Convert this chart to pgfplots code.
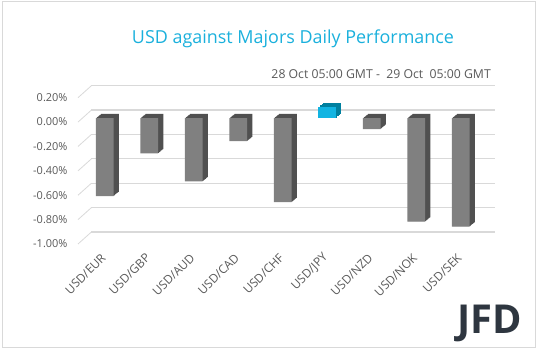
\documentclass[border=0pt]{standalone}
\usepackage{pgfplots}
\pgfplotsset{compat=1.18}
\usepackage{pgfplotstable}
\usepackage{fontspec}
\setmainfont{Open Sans}
\newfontfamily\logofont{Open Sans}
\definecolor{gfront}{HTML}{808080}
\definecolor{gdark}{HTML}{505050}
\definecolor{cfront}{HTML}{12B4E2}
\definecolor{cdark}{HTML}{00809F}
\definecolor{gridgray}{HTML}{D9D9D9}
\definecolor{txtgray}{HTML}{595959}
\definecolor{titlecyan}{HTML}{1AB0DC}
\definecolor{logo}{HTML}{2E3640}

\pgfplotstableread{
x y
0 -0.64
1 -0.29
2 -0.52
3 -0.19
4 -0.69
6 -0.09
7 -0.85
8 -0.89
}\graydata
\pgfplotstableread{
x y
5 0.09
}\cyandata

\begin{document}
\begin{tikzpicture}
\useasboundingbox (0,0) rectangle (538bp,351bp);
\draw[gridgray, line width=1bp] (2.5bp,3bp) rectangle (535.5bp,349bp);
\node[font=\fontsize{18}{21}\selectfont, text=titlecyan] at (293bp,312bp) {USD against Majors Daily Performance};
\node[font=\fontsize{12.3}{14}\selectfont, text=txtgray, anchor=east, inner sep=0pt] at (491bp,276.7bp) {28 Oct 05:00 GMT -\ \ 29 Oct\ \ 05:00 GMT};
\node[font=\fontsize{40}{40}\selectfont\bfseries\logofont, text=logo, anchor=base east, inner sep=0pt] at (522bp,18bp) {JFD};
\begin{axis}[
  at={(78bp,107bp)}, anchor=south west,
  scale only axis, width=400.5bp, height=146.3bp,
  xmin=-0.5, xmax=8.5, ymin=-1, ymax=0.2,
  axis line style={draw=none},
  major tick length=0pt,
  xtick={0,...,8},
  xticklabels={USD/EUR,USD/GBP,USD/AUD,USD/CAD,USD/CHF,USD/JPY,USD/NZD,USD/NOK,USD/SEK},
  xticklabel style={font=\fontsize{12}{14}\selectfont, text=txtgray, xshift=4bp, yshift=-11bp, rotate=45, anchor=east, inner sep=1bp},
  ytick={-1,-0.8,-0.6,-0.4,-0.2,0,0.2},
  yticklabels={-1.00\%,-0.80\%,-0.60\%,-0.40\%,-0.20\%,0.00\%,0.20\%},
  yticklabel style={font=\fontsize{11}{13}\selectfont, text=txtgray, anchor=east, xshift=-7bp},
  clip=false,
]
\pgfplotsinvokeforeach{-1,-0.8,-0.6,-0.4,-0.2,0,0.2}{
  \draw[gridgray, line width=1.3bp] ([shift={(13.4bp,12bp)}]axis cs:-0.5,#1) -- ([shift={(16.5bp,12bp)}]axis cs:8.5,#1);
  \draw[gridgray, line width=0.8bp] (axis cs:-0.5,#1) -- ++(13.4bp,12bp);
}
\pgfplotsinvokeforeach{8,7,6,5,4,3,2,1}{
  \addplot[ybar, bar width=17.7bp, bar shift=0pt, fill=gdark, draw=none,
    xshift={4.5bp+#1*0.66bp}, yshift={4bp+#1*0.54bp}] table[x=x,y=y]{\graydata};
  \addplot[ybar, bar width=17.7bp, bar shift=0pt, fill=cdark, draw=none,
    xshift={4.5bp+#1*0.66bp}, yshift={4bp+#1*0.54bp}] table[x=x,y=y]{\cyandata};
}
\addplot[ybar, bar width=17.7bp, bar shift=0pt, fill=gfront, draw=none,
  xshift=4.5bp, yshift=4bp] table[x=x,y=y]{\graydata};
\addplot[ybar, bar width=17.7bp, bar shift=0pt, fill=cfront, draw=none,
  xshift=4.5bp, yshift=4bp] table[x=x,y=y]{\cyandata};
\end{axis}
\end{tikzpicture}
\end{document}
